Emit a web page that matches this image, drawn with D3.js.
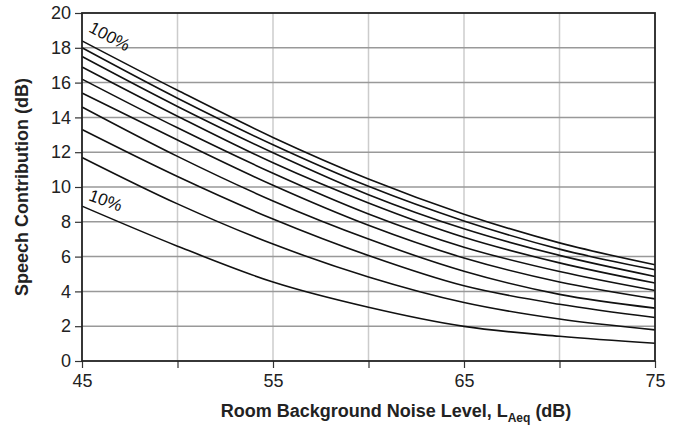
<!DOCTYPE html>
<html>
<head>
<meta charset="utf-8">
<script src="https://cdn.jsdelivr.net/npm/d3@7"></script>
<style>
  html, body { margin: 0; padding: 0; background: #fff; }
  svg { display: block; font-family: "Liberation Sans", Arial, sans-serif; }
</style>
</head>
<body>
<svg id="chart" width="678" height="429"></svg>
<script>
// Background noise level (dB) at which each curve is sampled
const noiseLevels = [45, 50, 55, 60, 65, 70, 75];

// Speech contribution (dB) per curve, from 100% down to 10%
const curve100 = [18.4, 15.56, 12.85, 10.46, 8.44, 6.79, 5.53];
const curve90  = [18.0, 15.10, 12.43, 10.04, 8.05, 6.43, 5.24];
const curve80  = [17.5, 14.63, 11.97, 9.56, 7.60, 6.07, 4.86];
const curve70  = [16.9, 14.07, 11.39, 9.08, 7.11, 5.64, 4.48];
const curve60  = [16.2, 13.40, 10.79, 8.45, 6.54, 5.14, 4.05];
const curve50  = [15.4, 12.70, 10.10, 7.80, 5.92, 4.54, 3.57];
const curve40  = [14.6, 11.76, 9.20, 7.01, 5.16, 3.83, 3.04];
const curve30  = [13.3, 10.60, 8.16, 6.06, 4.32, 3.26, 2.50];
const curve20  = [11.7, 9.03, 6.72, 4.83, 3.36, 2.41, 1.79];
const curve10  = [8.9, 6.60, 4.54, 3.09, 1.99, 1.42, 1.02];

const curves = [curve100, curve90, curve80, curve70, curve60, curve50, curve40, curve30, curve20, curve10];

const xTickLabels = [45, 55, 65, 75];
const xGridValues = [50, 55, 60, 65, 70];
const yTickLabels = [0, 2, 4, 6, 8, 10, 12, 14, 16, 18, 20];

const svg = d3.select("#chart");
const margin = { left: 82, right: 23, top: 13, bottom: 68 };
const W = 678, H = 429;

const x = d3.scaleLinear().domain([45, 75]).range([margin.left, W - margin.right]);
const y = d3.scaleLinear().domain([0, 20]).range([H - margin.bottom, margin.top]);

// Grid
svg.append("g").selectAll("line").data(xGridValues).join("line")
  .attr("x1", d => x(d)).attr("x2", d => x(d))
  .attr("y1", y(0)).attr("y2", y(20))
  .attr("stroke", "#cccccc").attr("stroke-width", 1.5);

svg.append("g").selectAll("line").data(yTickLabels.filter(d => d > 0 && d < 20)).join("line")
  .attr("x1", x(45)).attr("x2", x(75))
  .attr("y1", d => y(d)).attr("y2", d => y(d))
  .attr("stroke", "#999999").attr("stroke-width", 1.5);

// Axes
const yAxis = d3.axisLeft(y).tickValues(yTickLabels).tickSize(7).tickPadding(4);
const gy = svg.append("g").attr("transform", `translate(${x(45)},0)`).call(yAxis);
gy.select(".domain").remove();
gy.selectAll("line").attr("stroke", "#333").attr("stroke-width", 1.2);
gy.selectAll("text").attr("font-size", 18).attr("fill", "#222")
  .attr("font-family", "'Liberation Sans', Arial, sans-serif");

const xAxis = d3.axisBottom(x).tickValues([45, 50, 55, 60, 65, 70, 75]).tickSize(7).tickPadding(6)
  .tickFormat(d => xTickLabels.includes(d) ? d : "");
const gx = svg.append("g").attr("transform", `translate(0,${y(0)})`).call(xAxis);
gx.select(".domain").remove();
gx.selectAll("line").attr("stroke", "#333").attr("stroke-width", 1.2);
gx.selectAll("text").attr("font-size", 18).attr("fill", "#222")
  .attr("font-family", "'Liberation Sans', Arial, sans-serif");

// Curves
const line = d3.line()
  .x((d, i) => x(noiseLevels[i]))
  .y(d => y(d))
  .curve(d3.curveMonotoneX);

svg.append("g").selectAll("path").data(curves).join("path")
  .attr("d", line)
  .attr("fill", "none")
  .attr("stroke", "#111")
  .attr("stroke-width", 1.6);

// Frame
svg.append("rect")
  .attr("x", x(45)).attr("y", y(20))
  .attr("width", x(75) - x(45)).attr("height", y(0) - y(20))
  .attr("fill", "none").attr("stroke", "#222").attr("stroke-width", 1.8);

// Curve labels
const label = (txt, xv, yv, angle) => {
  svg.append("text")
    .attr("transform", `translate(${x(xv)},${y(yv)}) rotate(${angle})`)
    .attr("font-size", 17).attr("fill", "#111")
    .text(txt);
};
label("100%", 45.3, 18.95, 28);
label("10%", 45.3, 9.25, 20);

// Axis titles
svg.append("text")
  .attr("transform", `translate(28,${(y(0) + y(20)) / 2}) rotate(-90)`)
  .attr("text-anchor", "middle")
  .attr("font-size", 18).attr("font-weight", "bold").attr("fill", "#222")
  .text("Speech Contribution (dB)");

const xt = svg.append("text")
  .attr("x", 396).attr("y", 417)
  .attr("text-anchor", "middle")
  .attr("font-size", 18).attr("font-weight", "bold").attr("fill", "#222");
xt.append("tspan").text("Room Background Noise Level, L");
xt.append("tspan").attr("font-size", 12).attr("dy", 5).text("Aeq");
xt.append("tspan").attr("dy", -5).text(" (dB)");
</script>
</body>
</html>
